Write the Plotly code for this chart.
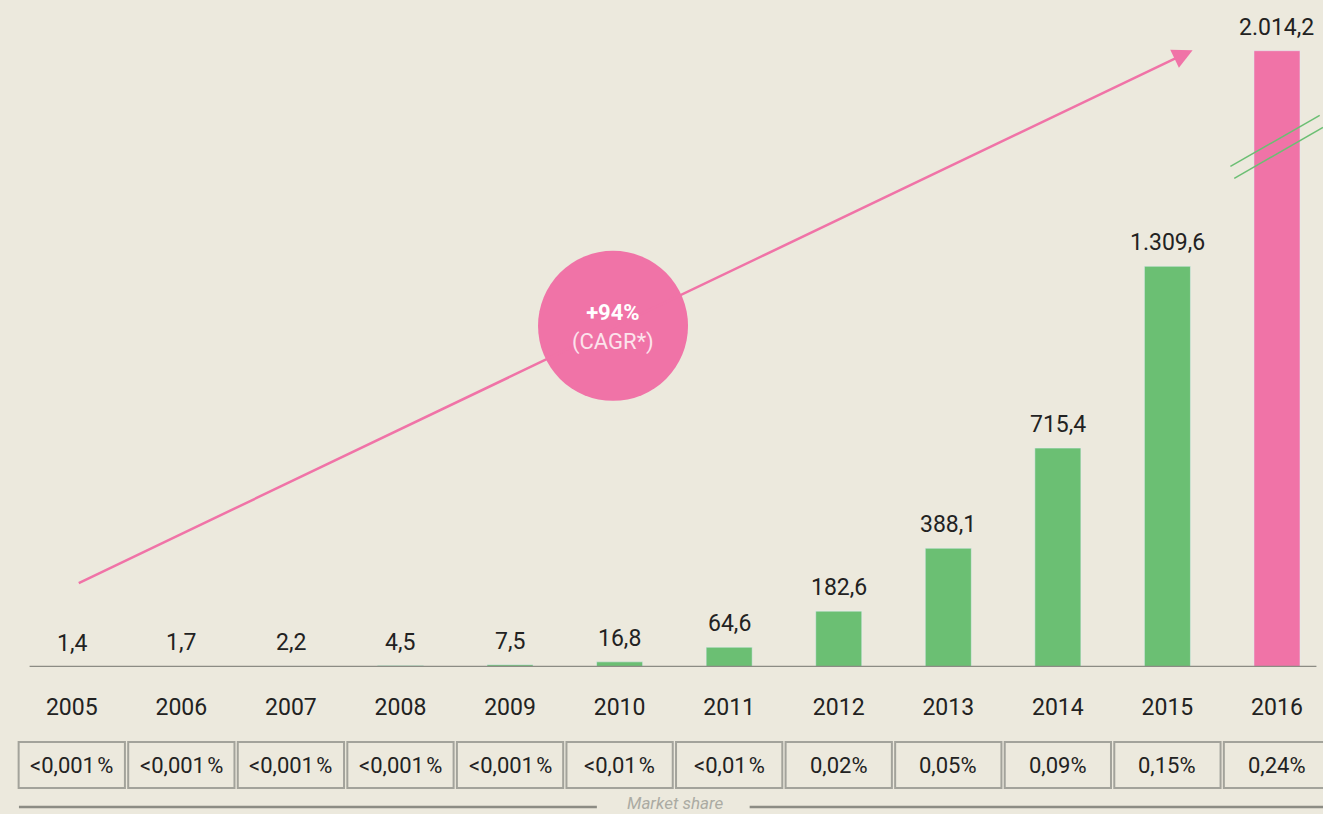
import plotly.graph_objects as go

BG = "#ECE9DD"
GREEN = "#6BBF73"
PINK = "#F073A7"
GREY = "#8C8C84"
INK = "#222222"
FONT = "Roboto"

years = ["2005", "2006", "2007", "2008", "2009", "2010",
         "2011", "2012", "2013", "2014", "2015", "2016"]
values = [1.4, 1.7, 2.2, 4.5, 7.5, 16.8, 64.6, 182.6, 388.1, 715.4, 1309.6, 2014.2]
market_share = ["<0,001\u200a%", "<0,001\u200a%", "<0,001\u200a%", "<0,001\u200a%",
                "<0,001\u200a%", "<0,01\u200a%", "<0,01\u200a%", "0,02%", "0,05%",
                "0,09%", "0,15%", "0,24%"]
cagr_text = "<b>+94%</b><br><span style='color:#FCE3EC'>(CAGR*)</span>"


def de_num(v):
    s = f"{v:,.1f}"
    return s.replace(",", "X").replace(".", ",").replace("X", ".")


bar_colors = [GREEN] * (len(years) - 1) + [PINK]

fig = go.Figure(go.Bar(
    x=years, y=values, marker_color=bar_colors, width=0.42,
    hoverinfo="skip", showlegend=False,
))

# value labels above bars (x given as category index)
for i, v in enumerate(values):
    fig.add_annotation(x=i, y=v, text=de_num(v), showarrow=False,
                       yanchor="bottom", yshift=8,
                       font=dict(family=FONT, size=23, color=INK))

# axis baseline
fig.add_shape(type="line", xref="x", yref="y", x0=-0.385, x1=11.36, y0=0, y1=0,
              line=dict(color=GREY, width=2.5), layer="above")

# growth arrow
fig.add_annotation(x=10.23, y=2016, ax=0.05, ay=272, axref="x", ayref="y",
                   xref="x", yref="y", text="", showarrow=True,
                   arrowhead=2, arrowsize=1.6, arrowwidth=2.5, arrowcolor=PINK,
                   standoff=0, startstandoff=0)

# CAGR bubble
fig.add_shape(type="circle", xref="x", yref="y", xsizemode="pixel", ysizemode="pixel",
              xanchor=4.94, yanchor=1115, x0=-75, x1=75, y0=-75, y1=75,
              fillcolor=PINK, line=dict(width=0), layer="above")
fig.add_annotation(x=4.94, y=1115, yshift=-2, text=cagr_text, showarrow=False,
                   font=dict(family=FONT, size=22, color="white"))

# axis-break marks on the 2016 bar
for (x0, y0, x1, y1) in [(10.575, 1636, 11.39, 1803), (10.61, 1597, 11.42, 1764)]:
    fig.add_shape(type="line", xref="x", yref="y", x0=x0, y0=y0, x1=x1, y1=y1,
                  line=dict(color=GREEN, width=1.5), layer="above")

# market share boxes
for i, ms in enumerate(market_share):
    fig.add_shape(type="rect", xref="x", yref="paper",
                  x0=i - 0.485, x1=i + 0.485, y0=-0.1814, y1=-0.1124,
                  line=dict(color="#A3A39B", width=2), fillcolor="rgba(0,0,0,0)")
    fig.add_annotation(x=i, y=-0.147, yref="paper", yanchor="middle", text=ms,
                       showarrow=False, font=dict(family=FONT, size=22, color=INK))

# footer rule with caption
for (x0, x1) in [(0.0015, 0.444), (0.561, 1.0)]:
    fig.add_shape(type="line", xref="paper", yref="paper", x0=x0, x1=x1,
                  y0=-0.21, y1=-0.21, line=dict(color=GREY, width=2.5))
fig.add_annotation(x=0.504, y=-0.204, xref="paper", yref="paper", yanchor="middle",
                   text="<i>Market share</i>", showarrow=False,
                   font=dict(family=FONT, size=17, color="#ABABA3"))

fig.update_layout(
    width=1323, height=814,
    paper_bgcolor=BG, plot_bgcolor=BG,
    margin=dict(l=17, r=0, t=0, b=147),
    font=dict(family=FONT, color=INK),
    xaxis=dict(range=[-0.5, 11.42], showgrid=False, zeroline=False, showline=False,
               ticks="outside", ticklen=19, tickcolor="rgba(0,0,0,0)",
               tickfont=dict(family=FONT, size=23, color=INK)),
    yaxis=dict(range=[0, 2180], showgrid=False, zeroline=False, showline=False,
               showticklabels=False),
    bargap=0.58,
)

fig.write_html("out.html", config={"displayModeBar": False},
               post_script="document.body.style.margin='0';"
                           "document.body.style.background='" + BG + "';")
